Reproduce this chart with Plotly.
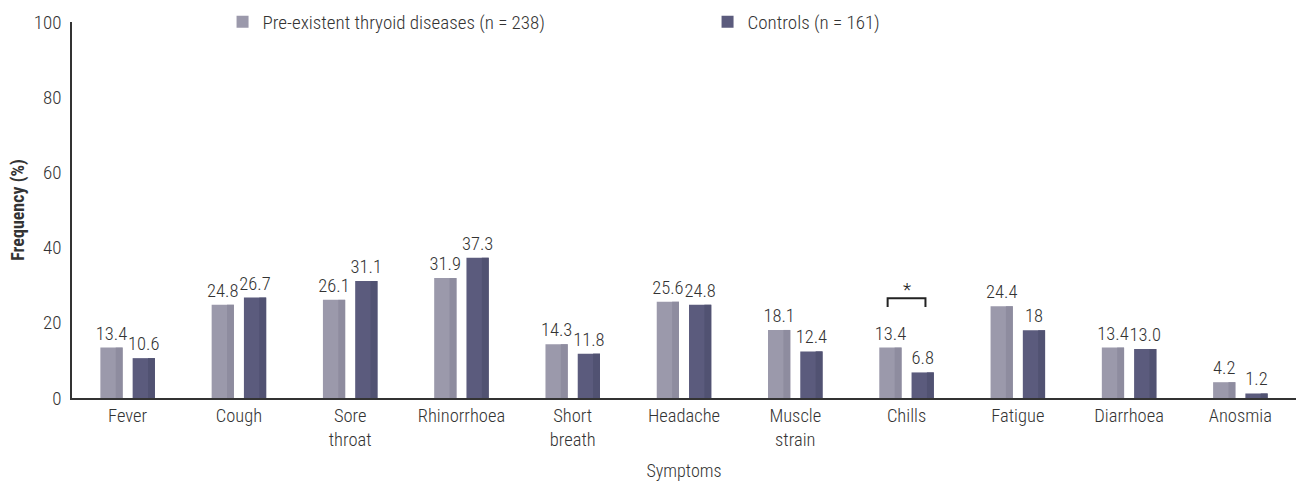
import plotly.graph_objects as go

# Symptom frequencies (%) for each group
symptoms = ["Fever", "Cough", "Sore<br>throat", "Rhinorrhoea", "Short<br>breath",
            "Headache", "Muscle<br>strain", "Chills", "Fatigue", "Diarrhoea", "Anosmia"]
thyroid_vals = [13.4, 24.8, 26.1, 31.9, 14.3, 25.6, 18.1, 13.4, 24.4, 13.4, 4.2]
control_vals = [10.6, 26.7, 31.1, 37.3, 11.8, 24.8, 12.4, 6.8, 18.0, 13.0, 1.2]
thyroid_text = ["13.4", "24.8", "26.1", "31.9", "14.3", "25.6", "18.1", "13.4", "24.4", "13.4", "4.2"]
control_text = ["10.6", "26.7", "31.1", "37.3", "11.8", "24.8", "12.4", "6.8", "18", "13.0", "1.2"]
y_ticks = [0, 20, 40, 60, 80, 100]

FONT = "Roboto Condensed, Liberation Sans Narrow, sans-serif"
TXT = "#333333"
LIGHT = 300

BAR_W = 0.2
STRIP_W = 0.062
OFF_A = -0.245
OFF_B = 0.045

fig = go.Figure()

def add_group(vals, texts, name, light, dark, off):
    fig.add_trace(go.Bar(
        x=symptoms, y=vals, name=name, marker_color=light, marker_line_width=0,
        offset=off, width=BAR_W, text=texts, textposition="outside",
        textfont=dict(family=FONT, size=18.5, color=TXT, weight=LIGHT), constraintext="none",
        cliponaxis=False, hoverinfo="skip",
    ))
    # darker right-hand edge of each bar
    fig.add_trace(go.Bar(
        x=symptoms, y=vals, marker_color=dark, marker_line_width=0,
        offset=off + BAR_W - STRIP_W, width=STRIP_W, showlegend=False, hoverinfo="skip",
    ))

add_group(thyroid_vals, thyroid_text, "Pre-existent thryoid diseases (n = 238)", "#9b99ab", "#8e8c9f", OFF_A)
add_group(control_vals, control_text, "Controls (n = 161)", "#5b5b7d", "#515272", OFF_B)

# significance bracket over Chills
ci = symptoms.index("Chills")
bx0, bx1 = ci - 0.17, ci + 0.17
by_top, by_low = 26.5, 24.2
fig.add_shape(type="path", xref="x", yref="y",
              path=f"M {bx0} {by_low} L {bx0} {by_top} L {bx1} {by_top} L {bx1} {by_low}",
              line=dict(color="#222222", width=2))
fig.add_annotation(x=ci, y=by_top, text="*", showarrow=False, yanchor="bottom", yshift=-5,
                   font=dict(family=FONT, size=19, color="#222222"))

fig.update_layout(
    width=1296, height=482,
    margin=dict(l=72, r=0, t=22, b=84),
    plot_bgcolor="white", paper_bgcolor="white",
    barmode="overlay",
    font=dict(family=FONT, size=18, color=TXT, weight=LIGHT),
    legend=dict(orientation="h", x=0.123, xanchor="left", y=1.0, yanchor="middle",
                entrywidth=440, entrywidthmode="pixels", tracegroupgap=0,
                font=dict(family=FONT, size=19, color=TXT, weight=LIGHT),
                bgcolor="rgba(0,0,0,0)", itemclick=False),
    xaxis=dict(range=[-0.5, 10.5], showline=True, linecolor="#333333", linewidth=1.5,
               ticks="", showgrid=False, zeroline=False,
               tickfont=dict(family=FONT, size=18.5, color=TXT, weight=LIGHT),
               title=dict(text="Symptoms", standoff=14,
                          font=dict(family=FONT, size=18, color=TXT, weight=LIGHT)),
               automargin=False),
    yaxis=dict(range=[0, 100], tickvals=y_ticks, showline=True, linecolor="#333333", linewidth=1.5,
               ticks="", showgrid=False, zeroline=False, ticklabelstandoff=5,
               tickfont=dict(family=FONT, size=19, color=TXT, weight=LIGHT),
               title=dict(text="Frequency (%)", standoff=4,
                          font=dict(family=FONT, size=18, color=TXT, weight=700)),
               automargin=False),
)

fig.write_html("out.html")
